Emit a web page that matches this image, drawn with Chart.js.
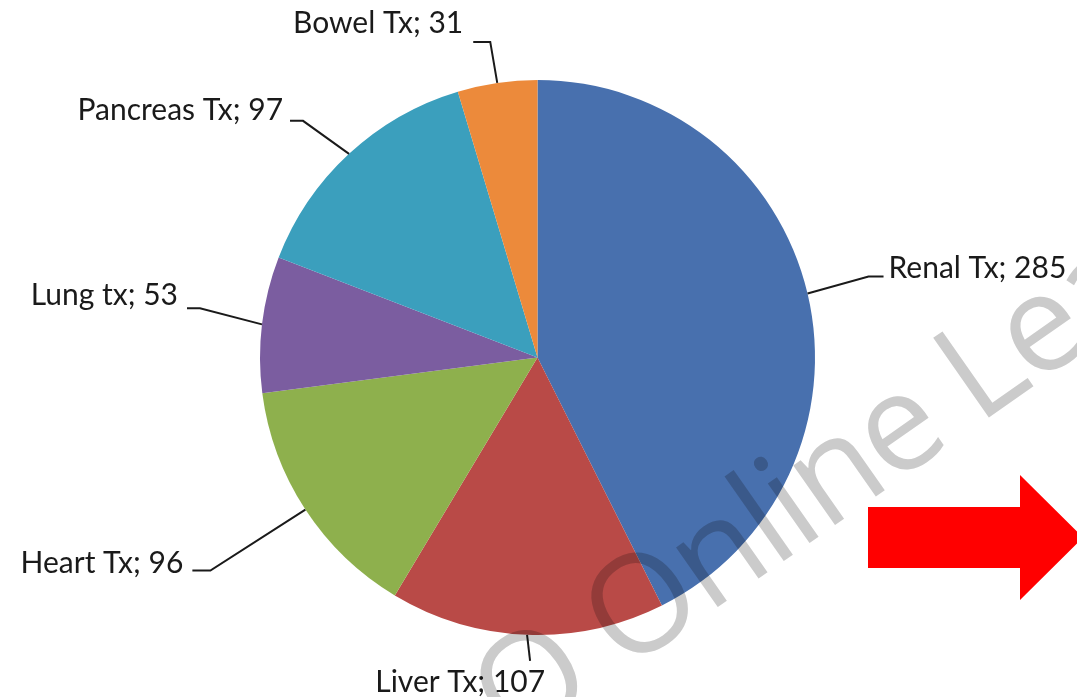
<!DOCTYPE html>
<html>
<head>
<meta charset="utf-8">
<script src="https://cdn.jsdelivr.net/npm/chart.js@4.4.0/dist/chart.umd.min.js"></script>
<style>
  html, body { margin: 0; padding: 0; background: #ffffff; }
  #wrap { width: 1077px; height: 697px; }
</style>
</head>
<body>
<div id="wrap"><canvas id="tx-chart" width="1077" height="697"></canvas></div>
<script>
// data
const categories = ['Renal Tx', 'Liver Tx', 'Heart Tx', 'Lung tx', 'Pancreas Tx', 'Bowel Tx'];
const counts = [285, 107, 96, 53, 97, 31];

const sliceColors = ['#4870ae', '#b94a47', '#8eb04d', '#7b5da0', '#3b9fbd', '#ec8a3b'];

// leader line / label layout, per slice (offsets from the slice's outer edge point)
const labelLayout = [
  { ex: 61, ey: -17, tick: 15, align: 'left', tx: 5, ty: 1 },
  { ex: 3, ey: 26, tick: 0, align: 'right', tx: 15, ty: 31 },
  { ex: -95, ey: 61, tick: -18, align: 'right', tx: -9, ty: 2 },
  { ex: -62, ey: -16, tick: -13, align: 'right', tx: -9, ty: -3 },
  { ex: -46, ey: -33, tick: -13, align: 'right', tx: -7, ty: -1 },
  { ex: -7, ey: -41, tick: -17, align: 'right', tx: -10, ty: -9 }
];

const leaderLabels = {
  id: 'leaderLabels',
  afterDatasetsDraw: (chart) => {
    const ctx = chart.ctx;
    const arcs = chart.getDatasetMeta(0).data;
    ctx.save();
    ctx.font = '30px Lato';
    ctx.fillStyle = '#1a1a1a';
    ctx.strokeStyle = '#1a1a1a';
    ctx.lineWidth = 2;
    ctx.textBaseline = 'alphabetic';
    arcs.forEach((arc, i) => {
      const p = arc.getProps(['x', 'y', 'startAngle', 'endAngle', 'outerRadius']);
      const mid = (p.startAngle + p.endAngle) / 2;
      const edgeX = p.x + Math.cos(mid) * p.outerRadius;
      const edgeY = p.y + Math.sin(mid) * p.outerRadius;
      const lay = labelLayout[i];
      const elbowX = edgeX + lay.ex;
      const elbowY = edgeY + lay.ey;
      const endX = elbowX + lay.tick;
      ctx.beginPath();
      ctx.moveTo(edgeX, edgeY);
      ctx.lineTo(elbowX, elbowY);
      ctx.lineTo(endX, elbowY);
      ctx.stroke();
      ctx.textAlign = lay.align;
      ctx.fillText(categories[i] + '; ' + counts[i], endX + lay.tx, elbowY + lay.ty);
    });
    ctx.restore();
  }
};

const decorations = {
  id: 'decorations',
  afterDraw: (chart) => {
    const ctx = chart.ctx;
    // red block arrow
    ctx.save();
    ctx.fillStyle = '#ff0000';
    ctx.beginPath();
    ctx.moveTo(868, 507);
    ctx.lineTo(1020, 507);
    ctx.lineTo(1020, 475);
    ctx.lineTo(1083, 537.5);
    ctx.lineTo(1020, 600);
    ctx.lineTo(1020, 568);
    ctx.lineTo(868, 568);
    ctx.closePath();
    ctx.fill();
    ctx.restore();

    // watermark
    ctx.save();
    ctx.globalCompositeOperation = 'multiply';
    ctx.fillStyle = '#cbcbcb';
    ctx.font = '500 136px "Open Sans"';
    ctx.letterSpacing = '-3px';
    ctx.textAlign = 'left';
    ctx.textBaseline = 'alphabetic';
    const prefix = 'O Online ';
    const w = ctx.measureText(prefix).width;
    ctx.translate(978, 425);
    ctx.rotate(-35 * Math.PI / 180);
    ctx.fillText(prefix + 'Learning', -w, 0);
    ctx.restore();
  }
};

const txChart = new Chart(document.getElementById('tx-chart').getContext('2d'), {
  type: 'pie',
  data: {
    labels: categories,
    datasets: [{
      data: counts,
      backgroundColor: sliceColors,
      borderWidth: 0,
      hoverOffset: 0
    }]
  },
  plugins: [leaderLabels, decorations],
  options: {
    responsive: false,
    animation: false,
    events: [],
    layout: {
      padding: { top: 80, bottom: 62, left: 260, right: 262 }
    },
    plugins: {
      legend: { display: false },
      tooltip: { enabled: false }
    }
  }
});
</script>
</body>
</html>
